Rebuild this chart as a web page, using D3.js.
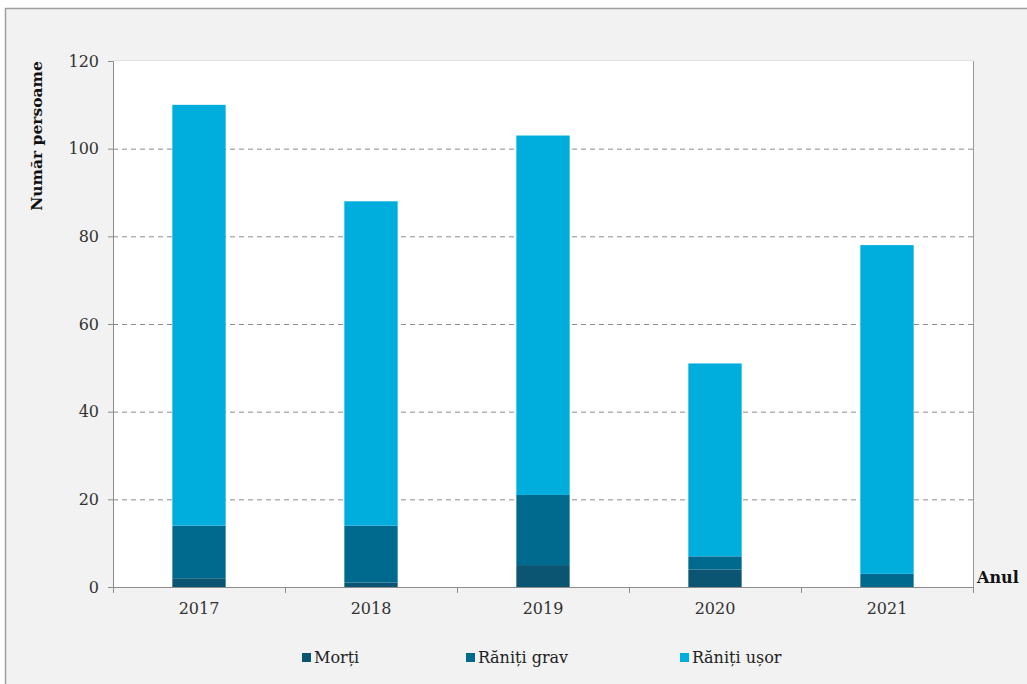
<!DOCTYPE html>
<html><head><meta charset="utf-8">
<script src="https://cdn.jsdelivr.net/npm/d3@7/dist/d3.min.js"></script>
<style>body{margin:0;background:#fff;}svg{display:block;}</style>
</head><body>
<svg id="c" width="1027" height="684"></svg>
<script>
const years = ["2017","2018","2019","2020","2021"];
const morti = [2, 1, 5, 4, 0];
const ranitiGrav = [12, 13, 16, 3, 3];
const ranitiUsor = [96, 74, 82, 44, 75];
const seriesNames = ["Morți","Răniți grav","Răniți ușor"];
const seriesColors = ["#0b5573","#006a8e","#00aede"];
const yTicks = [0,20,40,60,80,100,120];

const svg = d3.select("#c");
const font = "'DejaVu Serif', 'Liberation Serif', serif";
svg.append("rect").attr("x",0).attr("y",0).attr("width",1027).attr("height",684).attr("fill","#ffffff");
svg.append("rect").attr("x",5.5).attr("y",8.5).attr("width",1040).attr("height",700)
  .attr("fill","#f2f2f2").attr("stroke","#a0a0a0").attr("stroke-width",1.5);

const m = {l:113, r:973, t:61, b:587};
svg.append("rect").attr("x",m.l).attr("y",m.t).attr("width",m.r-m.l).attr("height",m.b-m.t).attr("fill","#ffffff");
svg.append("line").attr("x1",m.l).attr("x2",m.r).attr("y1",m.t-0.5).attr("y2",m.t-0.5).attr("stroke","#e0e0e0");
svg.append("line").attr("x1",m.r+0.5).attr("x2",m.r+0.5).attr("y1",m.t).attr("y2",m.b).attr("stroke","#9a9a9a");

const x = d3.scaleBand().domain(years).range([m.l,m.r]).paddingInner(0.69).paddingOuter(0.345);
const xb = d3.scaleBand().domain(years).range([m.l,m.r]).padding(0);
const y = d3.scaleLinear().domain([0,120]).range([m.b,m.t]);

// grid
svg.append("g").selectAll("line").data(yTicks.filter(d=>d>0&&d<120)).join("line")
  .attr("x1",m.l).attr("x2",m.r).attr("y1",d=>y(d)+0.5).attr("y2",d=>y(d)+0.5)
  .attr("stroke","#8c8c8c").attr("stroke-dasharray","5,4").attr("stroke-width",1);

// stack
const rows = years.map((yr,i)=>({year:yr, "Morți":morti[i], "Răniți grav":ranitiGrav[i], "Răniți ușor":ranitiUsor[i]}));
const stack = d3.stack().keys(seriesNames)(rows);
svg.append("g").selectAll("g").data(stack).join("g").attr("fill",(d,i)=>seriesColors[i])
  .selectAll("rect").data(d=>d).join("rect")
  .attr("x",d=>x(d.data.year)).attr("width",x.bandwidth())
  .attr("y",d=>y(d[1])).attr("height",d=>y(d[0])-y(d[1]));

// y axis
const ya = svg.append("g").attr("transform",`translate(${m.l},0)`)
  .call(d3.axisLeft(y).tickValues(yTicks).tickSize(5).tickPadding(9));
ya.select(".domain").attr("stroke","#8c8c8c");
ya.selectAll(".tick line").attr("stroke","#8c8c8c");
ya.selectAll("text").attr("font-family",font).attr("font-size",16).attr("fill","#333");

// x axis
const xa = svg.append("g").attr("transform",`translate(0,${m.b})`)
  .call(d3.axisBottom(x).tickSize(0).tickPadding(16));
xa.select(".domain").attr("stroke","#8c8c8c");
xa.selectAll("text").attr("font-family",font).attr("font-size",16).attr("fill","#333");
const bounds = years.map(d=>xb(d)).concat([m.r]);
svg.append("g").selectAll("line").data(bounds).join("line")
  .attr("x1",d=>d+0.5).attr("x2",d=>d+0.5).attr("y1",m.b).attr("y2",m.b+6).attr("stroke","#8c8c8c");

// axis titles
svg.append("text").attr("transform","translate(42,136) rotate(-90)").attr("text-anchor","middle")
  .attr("font-family",font).attr("font-weight","bold").attr("font-size",15.5).attr("fill","#111").text("Număr persoame");
svg.append("text").attr("x",977).attr("y",583).attr("font-family",font).attr("font-weight","bold")
  .attr("font-size",16).attr("fill","#111").text("Anul");

// legend
const lx = [302, 466, 680];
const lg = svg.append("g").selectAll("g").data(seriesNames).join("g")
  .attr("transform",(d,i)=>`translate(${lx[i]},658)`);
lg.append("rect").attr("x",0).attr("y",-5).attr("width",9).attr("height",9).attr("fill",(d,i)=>seriesColors[i]);
lg.append("text").attr("x",12).attr("y",5).attr("font-family",font).attr("font-size",16).attr("fill","#222").text(d=>d);
</script>
</body></html>
